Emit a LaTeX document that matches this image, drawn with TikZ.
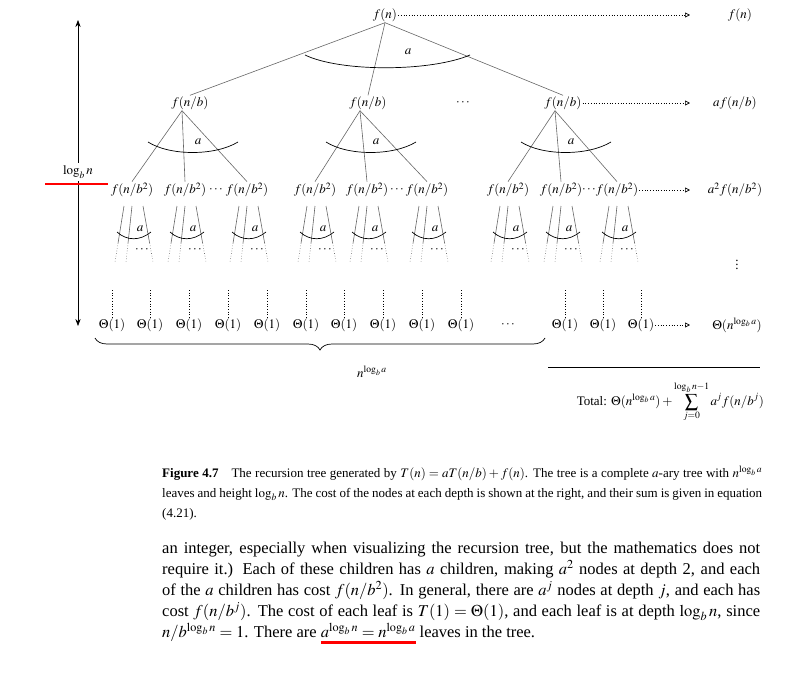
\documentclass[tikz,border=0pt]{standalone}
\usepackage{mathptmx}
\usepackage{fontspec}
\setmainfont{Liberation Serif}
\usepackage{xcolor}
\usetikzlibrary{arrows.meta,decorations.pathreplacing,calc}
\newcommand\redul[1]{\begingroup\setbox0\hbox{#1}\rlap{\color{red}\rule[-6pt]{\wd0}{2.5pt}}\box0\endgroup}
\tikzset{
  lbl/.style={inner sep=1pt,font=\fontsize{13}{15}\selectfont},
  edge/.style={draw=black!60,line width=0.6pt},
  dotarr/.style={dotted,line width=0.7pt,-{Triangle[open,length=5pt,width=5pt]}},
  fanarc/.style={line width=0.7pt},
  redline/.style={red,line width=2.5pt}
}
\begin{document}
\begin{tikzpicture}[x=1pt,y=-1pt]
\useasboundingbox (0,0) rectangle (793,680);
% root
\node[lbl] (r) at (385,15) {$f(n)$};
\node[lbl] (r0) at (740,15) {$f(n)$};
\draw[dotarr] (r.east) -- (690,15);
% level 1
\node[lbl] (p1) at (190,103) {$f(n/b)$};
\node[lbl] (p2) at (368,103) {$f(n/b)$};
\node[lbl] (pd) at (463,103) {$\cdots$};
\node[lbl] (p3) at (563,103) {$f(n/b)$};
\node[lbl] (r1) at (735,103) {$af(n/b)$};
\draw[dotarr] (p3.east) -- (690,103);
\foreach \p in {p1,p2,p3} \draw[edge] (r.south) -- (\p.north);
\draw[fanarc] (305,55) .. controls (340,72) and (430,72) .. (470,55);
\node[lbl] (ra) at (408,52) {$a$};
% level 2
\def\Ltwo{132/1,185/1,247/1,315/2,367/2,427/2,508/3,561/3,617/3}
\foreach \x/\g [count=\i] in \Ltwo {
  \node[lbl] (q\i) at (\x,190) {$f(n/b^2)$};
  \draw[edge] ($(p\g.south)+(-8+ 0,0)$) -- (q\i.north);
  \coordinate (s1\i) at (\x-8,206);
  \coordinate (s2\i) at (\x,206);
  \coordinate (s3\i) at (\x+11,206);
  \coordinate (e1\i) at (\x-17,262);
  \coordinate (e2\i) at (\x-6,262);
  \coordinate (e3\i) at (\x+21,262);
  \foreach \k in {1,2,3} {
    \draw[edge] (s\k\i) -- ($(s\k\i)!0.66!(e\k\i)$);
    \draw[edge,dotted] ($(s\k\i)!0.66!(e\k\i)$) -- (e\k\i);
  }
  \draw[fanarc] (\x-15,232) .. controls (\x-5,241) and (\x+8,241) .. (\x+19,232);
  \node[lbl] (qa\i) at (\x+8,229) {$a$};
  \node[lbl] (qd\i) at (\x+10,250) {$\cdots$};
}
\node[lbl] (d1) at (216,190) {$\cdots$};
\node[lbl] (d2) at (397,190) {$\cdots$};
\node[lbl] (d3) at (589,190) {$\cdots$};
\node[lbl] (r2) at (735,190) {$a^2f(n/b^2)$};
\draw[dotarr] (q9.east) -- (690,190);
\foreach \x in {190,368,563} {
  \draw[fanarc] (\x-42,142) .. controls (\x-20,156) and (\x+25,156) .. (\x+48,142);
  \node[lbl] at (\x+8,142) {$a$};
}
\node[lbl] (vd) at (737,262) {$\vdots$};
% leaves
\def\Leaves{112,150,189,228,267,306,344,383,422,461,565,603,641}
\foreach \x [count=\i] in \Leaves {
  \node[lbl] (l\i) at (\x,325) {$\Theta(1)$};
  \coordinate (lt\i) at (\x,290);
  \draw[dotted,line width=0.7pt] (lt\i) -- (l\i.north);
}
\node[lbl] (ld) at (508,325) {$\cdots$};
\node[lbl] (rl) at (737,325) {$\Theta(n^{\log_b a})$};
\draw[dotarr] (l13.east) -- (690,325);
% height arrow
\coordinate (ht) at (78,20);
\coordinate (hb) at (78,326);
\draw[line width=0.7pt,{Stealth[length=7pt]}-{Stealth[length=7pt]}] (ht) -- (hb);
\node[lbl,fill=white,inner sep=3pt] (h) at (78,172) {$\log_b n$};
\draw[redline] (45,184) -- (108,184);
% brace
\draw[line width=0.7pt,decorate,decoration={brace,mirror,amplitude=12pt}] (95,338) -- (545,338);
\node[lbl] (nb) at (372,372) {$n^{\log_b a}$};
% total
\draw[line width=0.7pt] (548,367) -- (760,367);
\node[lbl,anchor=east] (tot) at (765,402) {Total: $\Theta(n^{\log_b a}) + \displaystyle\sum_{j=0}^{\log_b n-1} a^j f(n/b^j)$};
% caption
\node[anchor=north west,inner sep=0pt,text width=600pt,align=justify,font=\fontsize{13}{20}\selectfont] (cap) at (162,466)
{\textbf{Figure 4.7}\quad The recursion tree generated by $T(n)=aT(n/b)+f(n)$. The tree is a complete $a$-ary tree with $n^{\log_b a}$ leaves and height $\log_b n$. The cost of the nodes at each depth is shown at the right, and their sum is given in equation (4.21).};
% body
\node[anchor=north west,inner sep=0pt,text width=598pt,align=justify,font=\fontsize{16.5}{21}\selectfont] (body) at (162,542)
{an integer, especially when visualizing the recursion tree, but the mathematics does not require it.) Each of these children has $a$ children, making $a^2$ nodes at depth 2, and each of the $a$ children has cost $f(n/b^2)$. In general, there are $a^j$ nodes at depth $j$, and each has cost $f(n/b^j)$. The cost of each leaf is $T(1)=\Theta(1)$, and each leaf is at depth $\log_b n$, since $n/b^{\log_b n}=1$. There are \redul{$a^{\log_b n}=n^{\log_b a}$} leaves in the tree.};
\end{tikzpicture}
\end{document}
